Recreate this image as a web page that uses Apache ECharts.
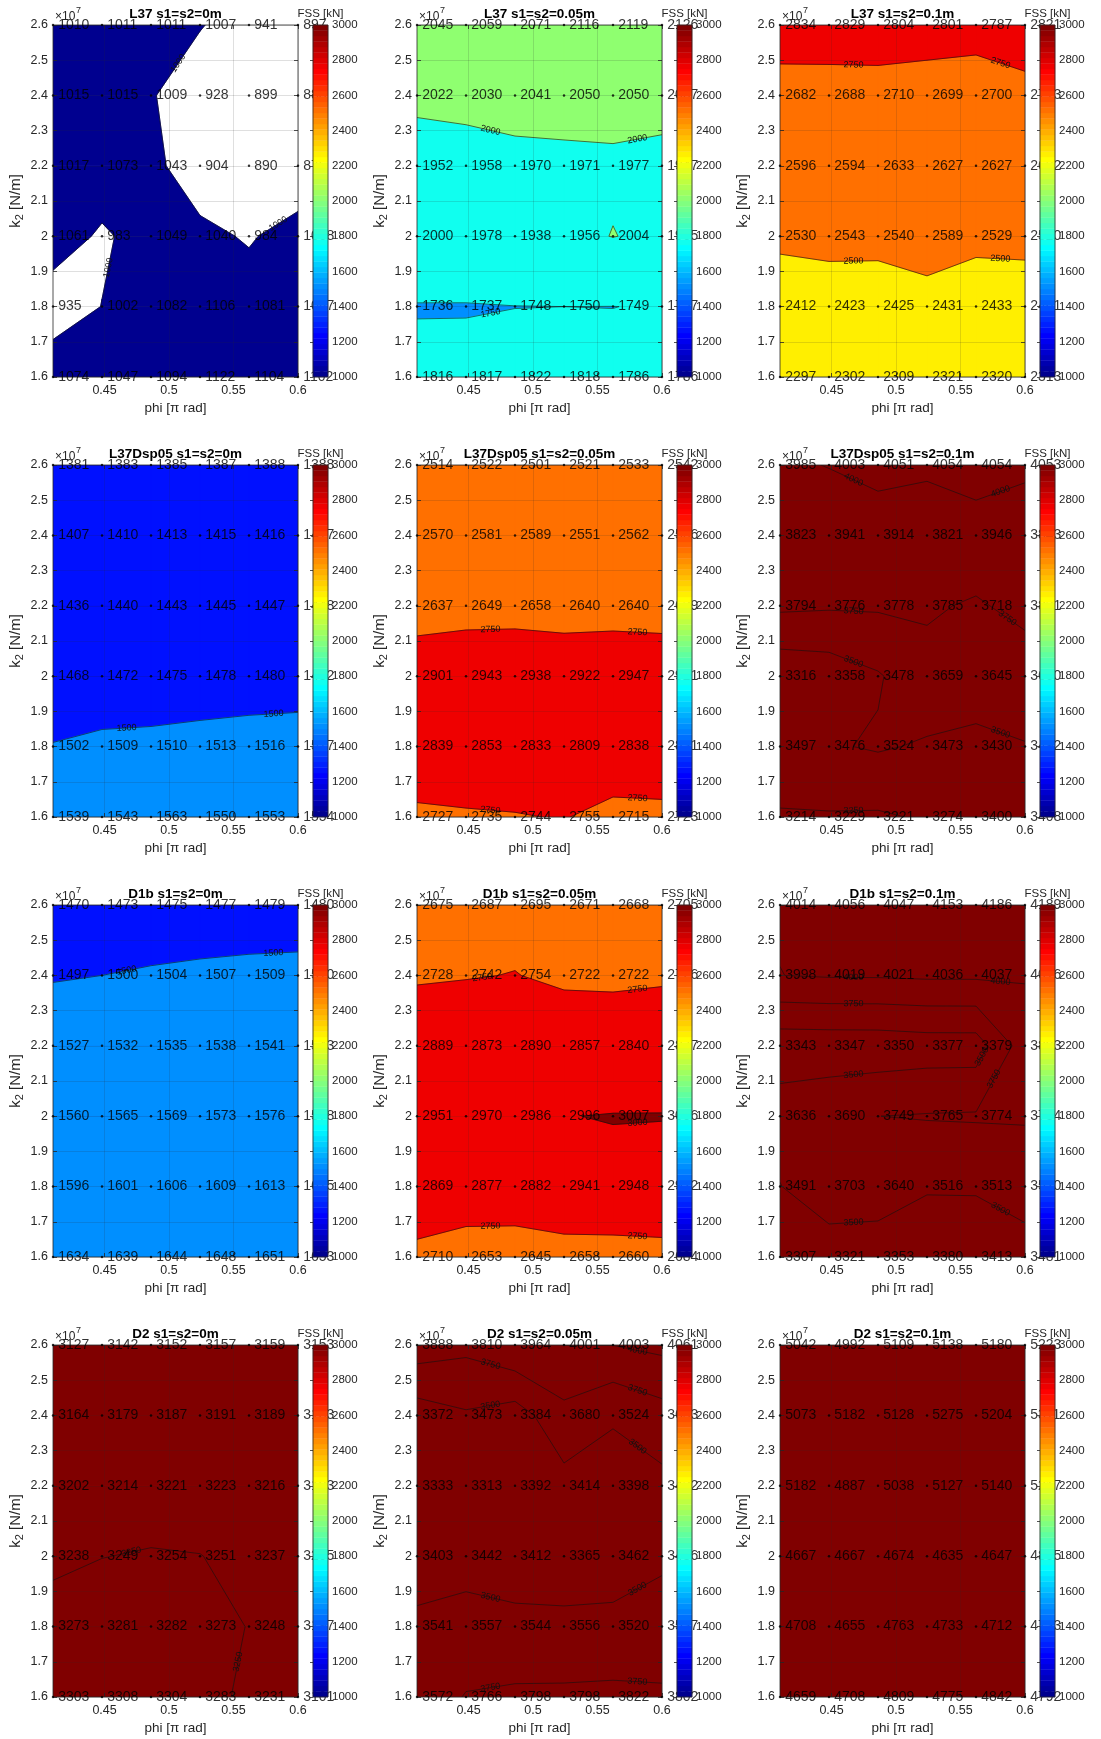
<!DOCTYPE html>
<html>
<head>
<meta charset="utf-8">
<script src="https://cdn.jsdelivr.net/npm/echarts@6/dist/echarts.min.js"></script>
<style>
  html, body { margin: 0; padding: 0; background: #fff; }
  #chart { width: 1101px; height: 1739px; }
</style>
</head>
<body>
<div id="chart"></div>
<script>
// Sampling grid
const PHI = [0.41, 0.448, 0.486, 0.524, 0.562, 0.6];          // phi [pi rad]
const K2 = [1.6e7, 1.8e7, 2.0e7, 2.2e7, 2.4e7, 2.6e7];         // k2 [N/m]
const PHI_TICKS = [0.45, 0.5, 0.55, 0.6];

// FSS [kN]: one row per k2 (1.6e7 first, 2.6e7 last), columns follow PHI
const L37_S0 = [
  [1074, 1047, 1094, 1122, 1104, 1102],
  [935, 1002, 1082, 1106, 1081, 1087],
  [1061, 983, 1049, 1040, 984, 1068],
  [1017, 1073, 1043, 904, 890, 875],
  [1015, 1015, 1009, 928, 899, 883],
  [1010, 1011, 1011, 1007, 941, 897]
];
const L37_S005 = [
  [1816, 1817, 1822, 1818, 1786, 1786],
  [1736, 1737, 1748, 1750, 1749, 1757],
  [2000, 1978, 1938, 1956, 2004, 1965],
  [1952, 1958, 1970, 1971, 1977, 1947],
  [2022, 2030, 2041, 2050, 2050, 2067],
  [2045, 2059, 2071, 2116, 2119, 2126]
];
const L37_S01 = [
  [2297, 2302, 2309, 2321, 2320, 2313],
  [2412, 2423, 2425, 2431, 2433, 2461],
  [2530, 2543, 2540, 2589, 2529, 2520],
  [2596, 2594, 2633, 2627, 2627, 2622],
  [2682, 2688, 2710, 2699, 2700, 2713],
  [2834, 2829, 2804, 2801, 2787, 2821]
];
const L37D_S0 = [
  [1539, 1543, 1563, 1550, 1553, 1554],
  [1502, 1509, 1510, 1513, 1516, 1517],
  [1468, 1472, 1475, 1478, 1480, 1482],
  [1436, 1440, 1443, 1445, 1447, 1448],
  [1407, 1410, 1413, 1415, 1416, 1417],
  [1381, 1383, 1385, 1387, 1388, 1388]
];
const L37D_S005 = [
  [2727, 2735, 2744, 2755, 2715, 2723],
  [2839, 2853, 2833, 2809, 2838, 2831],
  [2901, 2943, 2938, 2922, 2947, 2921],
  [2637, 2649, 2658, 2640, 2640, 2639],
  [2570, 2581, 2589, 2551, 2562, 2566],
  [2514, 2522, 2501, 2521, 2533, 2542]
];
const L37D_S01 = [
  [3214, 3229, 3221, 3274, 3400, 3408],
  [3497, 3476, 3524, 3473, 3430, 3492],
  [3316, 3358, 3478, 3659, 3645, 3600],
  [3794, 3776, 3778, 3785, 3718, 3831],
  [3823, 3941, 3914, 3821, 3946, 3843],
  [3985, 4003, 4051, 4054, 4054, 4053]
];
const D1B_S0 = [
  [1634, 1639, 1644, 1648, 1651, 1653],
  [1596, 1601, 1606, 1609, 1613, 1615],
  [1560, 1565, 1569, 1573, 1576, 1578],
  [1527, 1532, 1535, 1538, 1541, 1543],
  [1497, 1500, 1504, 1507, 1509, 1510],
  [1470, 1473, 1475, 1477, 1479, 1480]
];
const D1B_S005 = [
  [2710, 2653, 2645, 2658, 2660, 2684],
  [2869, 2877, 2882, 2941, 2948, 2922],
  [2951, 2970, 2986, 2996, 3007, 3006],
  [2889, 2873, 2890, 2857, 2840, 2877],
  [2728, 2742, 2754, 2722, 2722, 2726],
  [2675, 2687, 2695, 2671, 2668, 2705]
];
const D1B_S01 = [
  [3307, 3321, 3353, 3380, 3413, 3481],
  [3491, 3703, 3640, 3516, 3513, 3520],
  [3636, 3690, 3749, 3765, 3774, 3784],
  [3343, 3347, 3350, 3377, 3379, 3883],
  [3998, 4019, 4021, 4036, 4037, 4016],
  [4014, 4056, 4047, 4153, 4186, 4189]
];
const D2_S0 = [
  [3303, 3308, 3304, 3283, 3231, 3101],
  [3273, 3281, 3282, 3273, 3248, 3197],
  [3238, 3249, 3254, 3251, 3237, 3205],
  [3202, 3214, 3221, 3223, 3216, 3193],
  [3164, 3179, 3187, 3191, 3189, 3183],
  [3127, 3142, 3152, 3157, 3159, 3153]
];
const D2_S005 = [
  [3572, 3766, 3798, 3798, 3822, 3802],
  [3541, 3557, 3544, 3556, 3520, 3537],
  [3403, 3442, 3412, 3365, 3462, 3486],
  [3333, 3313, 3392, 3414, 3398, 3432],
  [3372, 3473, 3384, 3680, 3524, 3653],
  [3888, 3810, 3964, 4001, 4003, 4061]
];
const D2_S01 = [
  [4659, 4708, 4809, 4775, 4842, 4792],
  [4708, 4655, 4763, 4733, 4712, 4733],
  [4667, 4667, 4674, 4635, 4647, 4855],
  [5182, 4887, 5038, 5127, 5140, 5217],
  [5073, 5182, 5128, 5275, 5204, 5311],
  [5042, 4992, 5109, 5138, 5180, 5223]
];

const PANELS = [
  ['L37 s1=s2=0m', L37_S0], ['L37 s1=s2=0.05m', L37_S005], ['L37 s1=s2=0.1m', L37_S01],
  ['L37Dsp05 s1=s2=0m', L37D_S0], ['L37Dsp05 s1=s2=0.05m', L37D_S005], ['L37Dsp05 s1=s2=0.1m', L37D_S01],
  ['D1b s1=s2=0m', D1B_S0], ['D1b s1=s2=0.05m', D1B_S005], ['D1b s1=s2=0.1m', D1B_S01],
  ['D2 s1=s2=0m', D2_S0], ['D2 s1=s2=0.05m', D2_S005], ['D2 s1=s2=0.1m', D2_S01]
];

// contour levels and colour limits
const LEVELS = [];
for (let L = 1000; L <= 4000; L += 250) LEVELS.push(L);
const CMIN = 1000, CMAX = 3000, NCOL = 64;

// layout
const COL_X = [53, 417, 780];
const ROW_Y = [25, 465, 905, 1345];
const PW = 245, PH = 352, CB_DX = 260, CB_W = 15;
const FONT = '"Liberation Sans", Arial, Helvetica, sans-serif';
const AX = '#262626';

// 64-entry jet colormap
function jetColor(idx) {
  const u = [];
  for (let k = 1; k <= 16; k++) u.push(k / 16);
  for (let k = 0; k < 15; k++) u.push(1);
  for (let k = 16; k >= 1; k--) u.push(k / 16);
  const get = j => (j >= 1 && j <= u.length) ? u[j - 1] : 0;
  const r = get(idx - 24), g = get(idx - 8), b = get(idx + 8);
  return 'rgb(' + Math.round(r * 255) + ',' + Math.round(g * 255) + ',' + Math.round(b * 255) + ')';
}
function levelColor(L) {
  let idx = Math.floor((L - CMIN) / (CMAX - CMIN) * NCOL) + 1;
  idx = Math.max(1, Math.min(NCOL, idx));
  return jetColor(idx);
}

function cornersOf(Z, ci, ri) {
  return [
    { x: PHI[ci], y: K2[ri], v: Z[ri][ci] },
    { x: PHI[ci + 1], y: K2[ri], v: Z[ri][ci + 1] },
    { x: PHI[ci + 1], y: K2[ri + 1], v: Z[ri + 1][ci + 1] },
    { x: PHI[ci], y: K2[ri + 1], v: Z[ri + 1][ci] }
  ];
}
function cross(a, b, L) {
  const t = (L - a.v) / (b.v - a.v);
  return { x: a.x + t * (b.x - a.x), y: a.y + t * (b.y - a.y), v: L };
}
// diagonal corners on the same side of the level: ambiguous cell, resolved by the cell mean
function isSaddle(c, L) {
  const a = c.map(q => q.v >= L);
  return a[0] === a[2] && a[1] === a[3] && a[0] !== a[1];
}
function centerAbove(c, L) {
  return (c[0].v + c[1].v + c[2].v + c[3].v) / 4 >= L;
}

// part of a polygon at or above a level
function clipAbove(poly, L) {
  const out = [];
  for (let i = 0; i < poly.length; i++) {
    const a = poly[i], b = poly[(i + 1) % poly.length];
    const ina = a.v >= L, inb = b.v >= L;
    if (ina) out.push(a);
    if (ina !== inb) out.push(cross(a, b, L));
  }
  return out;
}
// region of one cell where the value is >= L
function aboveRegions(c, L) {
  if (isSaddle(c, L) && !centerAbove(c, L)) {
    const res = [];
    for (let k = 0; k < 4; k++) {
      if (c[k].v >= L) res.push([cross(c[(k + 3) % 4], c[k], L), c[k], cross(c[k], c[(k + 1) % 4], L)]);
    }
    return res;
  }
  const poly = clipAbove(c, L);
  return poly.length >= 3 ? [poly] : [];
}
// iso-line segments of one cell (marching squares)
function cellSegments(c, L) {
  const above = c.map(q => q.v >= L);
  const pts = [];
  for (let e = 0; e < 4; e++) {
    if (above[e] !== above[(e + 1) % 4]) pts[e] = cross(c[e], c[(e + 1) % 4], L);
  }
  const idx = [0, 1, 2, 3].filter(e => pts[e]);
  if (idx.length === 2) return [[pts[idx[0]], pts[idx[1]]]];
  if (idx.length === 4) {
    const center = centerAbove(c, L);
    const segs = [];
    for (let k = 0; k < 4; k++) if (above[k] !== center) segs.push([pts[(k + 3) % 4], pts[k]]);
    return segs;
  }
  return [];
}

function contourRenderer(Z) {
  return function (params, api) {
    const ci = api.value(2), ri = api.value(3);
    const corners = cornersOf(Z, ci, ri);
    const children = [];
    // each level paints its >= region over the lower ones
    LEVELS.forEach((L, k) => {
      const col = levelColor(L);
      aboveRegions(corners, L).forEach(poly => {
        children.push({
          type: 'polygon', z2: k,
          shape: { points: poly.map(q => api.coord([q.x, q.y])) },
          style: { fill: col, stroke: col, lineWidth: 0.8 }
        });
      });
    });
    LEVELS.forEach(L => {
      cellSegments(corners, L).forEach(s => {
        const a = api.coord([s[0].x, s[0].y]), b = api.coord([s[1].x, s[1].y]);
        children.push({
          type: 'line', z2: 100,
          shape: { x1: a[0], y1: a[1], x2: b[0], y2: b[1] },
          style: { stroke: '#111', lineWidth: 0.6 }
        });
      });
    });
    return { type: 'group', children };
  };
}

// choose a few spaced-out places along each iso-line for its level label
function contourLabelData(Z) {
  const out = [];
  const sx = PW / (PHI[5] - PHI[0]), sy = PH / (K2[5] - K2[0]);
  const order = [1, 4, 2, 0, 3];
  LEVELS.forEach(L => {
    const cands = [];
    for (let ri = 0; ri < 5; ri++) {
      for (let ci = 0; ci < 5; ci++) {
        cellSegments(cornersOf(Z, ci, ri), L).forEach(s => {
          const len = Math.hypot((s[1].x - s[0].x) * sx, (s[1].y - s[0].y) * sy);
          if (len > 22) cands.push({ s, ci, len });
        });
      }
    }
    cands.sort((a, b) => order.indexOf(a.ci) - order.indexOf(b.ci) || b.len - a.len);
    const placed = [];
    cands.forEach(c => {
      const mx = (c.s[0].x + c.s[1].x) / 2, my = (c.s[0].y + c.s[1].y) / 2;
      const px = mx * sx, py = my * sy;
      if (placed.every(p => Math.hypot(p[0] - px, p[1] - py) > 110)) {
        placed.push([px, py]);
        out.push([mx, my, c.s[0].x, c.s[0].y, c.s[1].x, c.s[1].y, L]);
      }
    });
  });
  return out;
}

function contourLabelRenderer(params, api) {
  const a = api.coord([api.value(2), api.value(3)]);
  const b = api.coord([api.value(4), api.value(5)]);
  let ang = Math.atan2(b[1] - a[1], b[0] - a[0]);
  if (ang > Math.PI / 2) ang -= Math.PI;
  if (ang < -Math.PI / 2) ang += Math.PI;
  return {
    type: 'text',
    x: (a[0] + b[0]) / 2, y: (a[1] + b[1]) / 2,
    rotation: -ang,
    style: {
      text: String(api.value(6)), fontSize: 9, fontFamily: FONT, fill: '#111',
      align: 'center', verticalAlign: 'middle'
    }
  };
}

function colorbarRenderer(params, api) {
  const k = api.value(2);
  const step = (CMAX - CMIN) / NCOL;
  const y0 = CMIN + k * step, y1 = y0 + step;
  const a = api.coord([0, y1]), b = api.coord([1, y0]);
  const col = jetColor(k + 1);
  return {
    type: 'rect',
    shape: { x: a[0], y: a[1], width: b[0] - a[0], height: b[1] - a[1] },
    style: { fill: col, stroke: col, lineWidth: 0.4 }
  };
}

const grids = [], xAxes = [], yAxes = [], series = [], graphics = [];
const CB_DATA = [];
for (let k = 0; k < NCOL; k++) CB_DATA.push([0.5, CMIN + (k + 0.5) * (CMAX - CMIN) / NCOL, k]);

PANELS.forEach((p, i) => {
  const title = p[0], Z = p[1];
  const col = i % 3, row = Math.floor(i / 3);
  const left = COL_X[col], top = ROW_Y[row];

  const gMain = grids.length;
  grids.push({ left, top, width: PW, height: PH, show: true, z: 3,
    backgroundColor: 'transparent', borderColor: AX, borderWidth: 0.8 });
  const gBar = grids.length;
  grids.push({ left: left + CB_DX, top, width: CB_W, height: PH, show: true, z: 8,
    backgroundColor: 'transparent', borderColor: AX, borderWidth: 0.8 });

  const xi = xAxes.length, yi = yAxes.length;
  // main axes: bottom / left carry labels, top / right only inner ticks
  xAxes.push({
    gridIndex: gMain, type: 'value', min: PHI[0], max: PHI[5], position: 'bottom', z: 2,
    axisLine: { show: false },
    axisTick: { show: true, inside: true, length: 4, customValues: PHI_TICKS, lineStyle: { color: AX, width: 0.8 } },
    axisLabel: { show: true, customValues: PHI_TICKS, color: AX, fontSize: 12.5, fontFamily: FONT, margin: 7,
      formatter: v => String(+(+v).toFixed(2)) },
    splitLine: { show: true, lineStyle: { color: 'rgba(38,38,38,0.15)', width: 1 } },
    name: 'phi [π rad]', nameLocation: 'middle', nameGap: 24,
    nameTextStyle: { color: AX, fontSize: 13.5, fontFamily: FONT }
  });
  xAxes.push({
    gridIndex: gMain, type: 'value', min: PHI[0], max: PHI[5], position: 'top', z: 2,
    axisLine: { show: false },
    axisTick: { show: true, inside: true, length: 4, customValues: PHI_TICKS, lineStyle: { color: AX, width: 0.8 } },
    axisLabel: { show: false }, splitLine: { show: false }
  });
  xAxes.push({ gridIndex: gBar, type: 'value', min: 0, max: 1, show: false });

  yAxes.push({
    gridIndex: gMain, type: 'value', min: K2[0], max: K2[5], interval: 1e6, position: 'left', z: 2,
    axisLine: { show: false },
    axisTick: { show: true, inside: true, length: 4, lineStyle: { color: AX, width: 0.8 } },
    axisLabel: { show: true, color: AX, fontSize: 12.5, fontFamily: FONT, margin: 5,
      formatter: v => String(Math.round(v / 1e6) / 10) },
    splitLine: { show: true, lineStyle: { color: 'rgba(38,38,38,0.15)', width: 1 } },
    name: '{k|k}{s|2}{k| [N/m]}', nameLocation: 'middle', nameGap: 28,
    nameTextStyle: {
      color: AX, fontSize: 15, fontFamily: FONT,
      rich: {
        k: { fontSize: 15, color: AX, fontFamily: FONT },
        s: { fontSize: 11, color: AX, fontFamily: FONT, padding: [8, 0, 0, 0] }
      }
    }
  });
  yAxes.push({
    gridIndex: gMain, type: 'value', min: K2[0], max: K2[5], interval: 1e6, position: 'right', z: 2,
    axisLine: { show: false },
    axisTick: { show: true, inside: true, length: 4, lineStyle: { color: AX, width: 0.8 } },
    axisLabel: { show: false }, splitLine: { show: false }
  });
  yAxes.push({
    gridIndex: gBar, type: 'value', min: CMIN, max: CMAX, interval: 200, position: 'right', z: 7,
    axisLine: { show: false },
    axisTick: { show: true, inside: true, length: 3, lineStyle: { color: AX, width: 0.8 } },
    axisLabel: { show: true, color: AX, fontSize: 11.5, fontFamily: FONT, margin: 4,
      formatter: v => String(Math.round(v)) },
    splitLine: { show: false }
  });

  // filled contours + iso-lines
  const cells = [];
  for (let ri = 0; ri < 5; ri++) for (let ci = 0; ci < 5; ci++)
    cells.push([(PHI[ci] + PHI[ci + 1]) / 2, (K2[ri] + K2[ri + 1]) / 2, ci, ri]);
  series.push({
    type: 'custom', xAxisIndex: xi, yAxisIndex: yi, z: 1, silent: true, clip: true,
    encode: { x: 0, y: 1 }, data: cells, renderItem: contourRenderer(Z)
  });
  // level labels on the iso-lines
  series.push({
    type: 'custom', xAxisIndex: xi, yAxisIndex: yi, z: 3, silent: true,
    encode: { x: 0, y: 1 }, data: contourLabelData(Z), renderItem: contourLabelRenderer
  });
  // sample points with their values
  const pts = [];
  for (let ri = 0; ri < 6; ri++) for (let ci = 0; ci < 6; ci++) pts.push([PHI[ci], K2[ri], Z[ri][ci]]);
  series.push({
    type: 'scatter', xAxisIndex: xi, yAxisIndex: yi, z: 4, silent: true, clip: false,
    symbol: 'circle', symbolSize: 2.5, itemStyle: { color: '#000' },
    emphasis: { disabled: true },
    label: { show: true, position: 'right', distance: 4, formatter: q => String(q.value[2]),
      color: '#000', fontSize: 14, fontFamily: FONT },
    data: pts
  });
  // colour bar
  series.push({
    type: 'custom', xAxisIndex: xi + 2, yAxisIndex: yi + 2, z: 6, silent: true,
    encode: { x: 0, y: 1 }, data: CB_DATA, renderItem: colorbarRenderer
  });

  graphics.push({
    type: 'text', x: left + PW / 2, y: top - 11, z: 20,
    style: { text: title, fontSize: 13.5, fontWeight: 'bold', fontFamily: FONT, fill: '#000',
      align: 'center', verticalAlign: 'middle' }
  });
  graphics.push({
    type: 'text', x: left + 2, y: top - 8, z: 20,
    style: { text: '×10', fontSize: 12, fontFamily: FONT, fill: AX, align: 'left', verticalAlign: 'middle' }
  });
  graphics.push({
    type: 'text', x: left + 23, y: top - 14, z: 20,
    style: { text: '7', fontSize: 9, fontFamily: FONT, fill: AX, align: 'left', verticalAlign: 'middle' }
  });
  graphics.push({
    type: 'text', x: left + CB_DX + CB_W / 2, y: top - 11, z: 20,
    style: { text: 'FSS [kN]', fontSize: 11.5, fontFamily: FONT, fill: AX, align: 'center', verticalAlign: 'middle' }
  });
});

const chart = echarts.init(document.getElementById('chart'), null, { renderer: 'canvas' });
chart.setOption({
  animation: false,
  backgroundColor: '#fff',
  textStyle: { fontFamily: FONT },
  grid: grids,
  xAxis: xAxes,
  yAxis: yAxes,
  series: series,
  graphic: { elements: graphics }
});
</script>
</body>
</html>
